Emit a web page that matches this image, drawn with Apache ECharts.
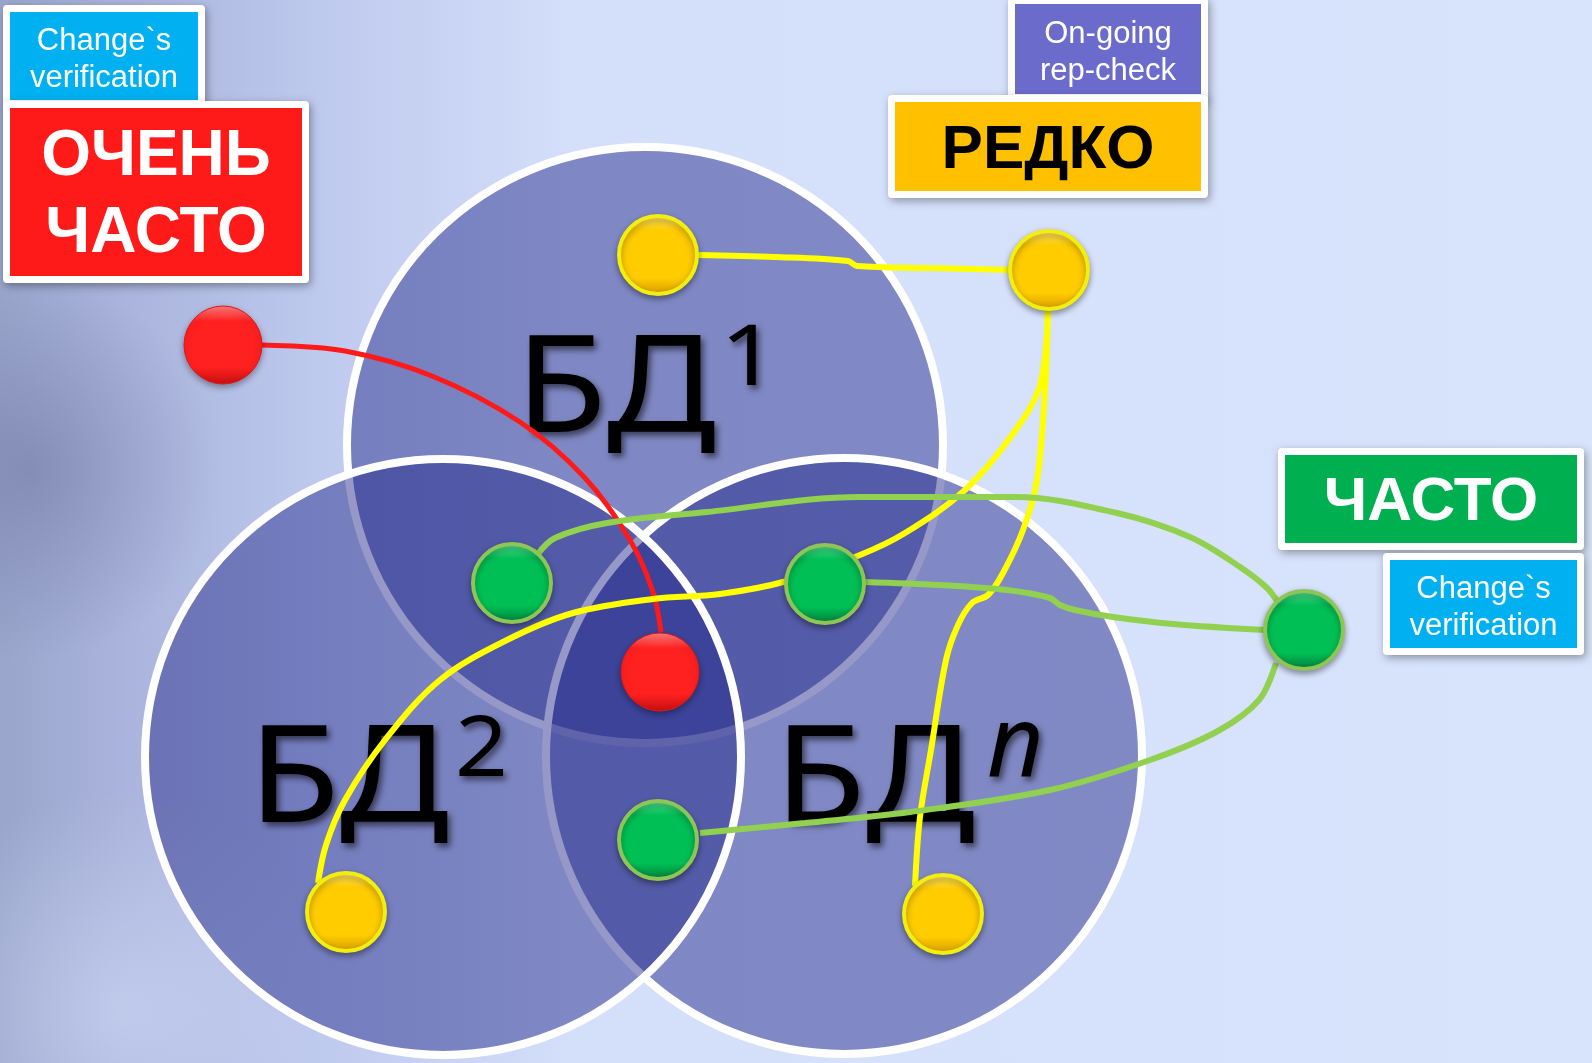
<!DOCTYPE html>
<html>
<head>
<meta charset="utf-8">
<title>БД</title>
<script src="https://cdn.jsdelivr.net/npm/echarts@6/dist/echarts.min.js"></script>
<style>
  html, body { margin: 0; padding: 0; background: #d7e2fc; }
  #chart { width: 1592px; height: 1063px; }
</style>
</head>
<body>
<div id="chart"></div>
<script>
// canvas is mapped 1:1 onto a hidden value grid (x right, y down)
var W = 1592, H = 1063;

// three databases, drawn bottom to top
var dbNames   = ['БД1', 'БДn', 'БД2'];
var dbCenters = [[645, 445], [844, 756], [443, 757]];

// nodes
var redNodes    = [[223, 345], [660, 672]];
var yellowNodes = [[658, 255], [1049, 270], [346, 912], [943, 914]];
var greenNodes  = [[512, 583], [825, 584], [1304, 630], [658, 840]];

// connectors
var redLink = [[262, 345], [345, 351], [432, 376], [520, 422], [585, 478], [630, 540], [653, 592], [661, 632]];
var yellowTop = [[697, 255], [775, 257], [848, 261], [857, 266], [930, 268], [1010, 270]];
var yellowLeft = [[1048, 308], [1040, 385], [1012, 435], [965, 490], [905, 533], [860, 555], [787, 581], [720, 594], [653, 599], [573, 613], [507, 640], [440, 680], [385, 740], [345, 800], [326, 845], [318, 883]];
var yellowDown = [[1048, 308], [1045, 390], [1037, 480], [1023, 530], [1003, 573], [988, 595], [972, 603], [958, 625], [946, 660], [931, 750], [920, 817], [915, 886]];
var greenArc = [[537, 555], [555, 538], [607, 523], [707, 512], [860, 497], [1015, 497], [1117, 513], [1190, 537], [1240, 567], [1267, 588], [1279, 604]];
var greenMid = [[865, 582], [940, 585], [1007, 590], [1050, 598], [1060, 605], [1075, 610], [1113, 617], [1173, 624], [1265, 630]];
var greenLow = [[700, 833], [805, 823], [910, 812], [1050, 790], [1150, 760], [1218, 731], [1259, 700], [1276, 663]];

var chart = echarts.init(document.getElementById('chart'));

function glossy(top, base, bottom) {
    return new echarts.graphic.LinearGradient(0, 0, 0, 1, [
        {offset: 0, color: top},
        {offset: 0.2, color: base},
        {offset: 0.78, color: base},
        {offset: 1, color: bottom}
    ]);
}

function linkSeries(points, color, width) {
    return {
        type: 'line',
        data: points,
        smooth: 0.35,
        showSymbol: false,
        silent: true,
        z: 4,
        lineStyle: {color: color, width: width},
        emphasis: {disabled: true}
    };
}

function nodeSeries(points, fill, border, borderWidth) {
    return {
        type: 'scatter',
        data: points,
        symbol: 'circle',
        symbolSize: 78,
        silent: true,
        z: 6,
        itemStyle: {
            opacity: 1,
            color: fill,
            borderColor: border,
            borderWidth: borderWidth,
            shadowColor: 'rgba(0,0,0,0.35)',
            shadowBlur: 6,
            shadowOffsetY: 3
        },
        emphasis: {disabled: true}
    };
}

// label boxes: white frame + coloured panel + text
function box(x, y, w, h, color, text, font, textColor, lh) {
    return {
        type: 'group',
        z: 10,
        children: [
            {type: 'rect', shape: {x: x - 7, y: y - 7, width: w + 14, height: h + 14, r: 4},
             style: {fill: '#fff', shadowBlur: 8, shadowColor: 'rgba(0,0,0,0.35)', shadowOffsetX: 2, shadowOffsetY: 3}},
            {type: 'rect', shape: {x: x, y: y, width: w, height: h}, style: {fill: color}},
            {type: 'text', x: x + w / 2, y: y + h / 2 + 4,
             style: {text: text, font: font, fill: textColor, align: 'center', verticalAlign: 'middle', lineHeight: lh}}
        ]
    };
}

var dbFont = '136px "Noto Sans", sans-serif';
var supFont = '84px "Noto Sans", sans-serif';
var dbShadow = {textShadowColor: 'rgba(0,0,0,0.55)', textShadowBlur: 6, textShadowOffsetX: 3, textShadowOffsetY: 4};

function dbText(x, y, text, font, sx) {
    return {
        type: 'text', x: x, y: y, z: 3, scaleX: sx,
        style: Object.assign({text: text, font: font, fill: '#000', align: 'left', verticalAlign: 'middle'}, dbShadow)
    };
}

// soft background blob (fades to its own colour, no dark fringe)
function soft(cx, cy, r, rgb, a) {
    return {type: 'rect', z: -9, shape: {x: cx - r, y: cy - r, width: 2 * r, height: 2 * r},
        style: {fill: new echarts.graphic.RadialGradient(0.5, 0.5, 0.5, [
            {offset: 0, color: 'rgba(' + rgb + ',' + a + ')'},
            {offset: 1, color: 'rgba(' + rgb + ',0)'}
        ])}};
}

var option = {
    animation: false,
    grid: {left: 0, right: 0, top: 0, bottom: 0},
    xAxis: {type: 'value', min: 0, max: W, show: false},
    yAxis: {type: 'value', min: 0, max: H, inverse: true, show: false},
    graphic: {
        elements: [
            {type: 'rect', z: -10, shape: {x: 0, y: 0, width: W, height: H},
             style: {fill: new echarts.graphic.LinearGradient(0, 0, 1, 0, [
                 {offset: 0, color: '#9aa5cc'},
                 {offset: 0.08, color: '#aab4dc'},
                 {offset: 0.2, color: '#bec9ee'},
                 {offset: 0.36, color: '#d4dffa'},
                 {offset: 1, color: '#d8e3fc'}
             ])}},
            soft(30, 470, 190, '100,108,150', 0.45),
            soft(120, 1010, 220, '210,220,248', 0.55),

            dbText(515, 393, 'БД', dbFont, 1.1),
            dbText(720, 361, '1', supFont, 1.2),
            dbText(248, 783, 'БД', dbFont, 1.1),
            dbText(455, 752, '2', supFont, 1.1),
            dbText(774, 783, 'БД', dbFont, 1.1),
            dbText(987, 748, 'n', 'italic 98px "Noto Sans", sans-serif', 1),

            box(10, 12, 188, 88, '#00b0f0', 'Change`s\nverification', '31px "Liberation Sans", Arial, sans-serif', '#fff', 37),
            box(10, 108, 292, 168, '#ff1a1a', 'ОЧЕНЬ\nЧАСТО', 'bold 64px "Liberation Sans", Arial, sans-serif', '#fff', 77),
            box(1015, 4, 186, 90, '#6b6bcc', 'On-going\nrep-check', '31px "Liberation Sans", Arial, sans-serif', '#fff', 37),
            box(895, 102, 306, 89, '#ffc000', 'РЕДКО', 'bold 62px "Liberation Sans", Arial, sans-serif', '#000', 70),
            box(1285, 455, 292, 88, '#00b050', 'ЧАСТО', 'bold 62px "Liberation Sans", Arial, sans-serif', '#fff', 70),
            box(1390, 560, 187, 88, '#00b0f0', 'Change`s\nverification', '31px "Liberation Sans", Arial, sans-serif', '#fff', 37)
        ]
    },
    series: [
        {
            type: 'scatter',
            name: 'БД',
            data: dbCenters.map(function (c, i) { return {name: dbNames[i], value: c}; }),
            symbol: 'circle',
            symbolSize: 596,
            silent: true,
            z: 1,
            itemStyle: {opacity: 1, color: 'rgba(36,41,138,0.48)', borderColor: '#fff', borderWidth: 8},
            emphasis: {disabled: true}
        },
        linkSeries(redLink, '#ff1a1a', 5),
        linkSeries(yellowTop, '#ffff00', 6),
        linkSeries(yellowLeft, '#ffff00', 6),
        linkSeries(yellowDown, '#ffff00', 6),
        linkSeries(greenArc, '#92d050', 6),
        linkSeries(greenMid, '#92d050', 6),
        linkSeries(greenLow, '#92d050', 6),
        nodeSeries(redNodes, glossy('#ff8080', '#ff2020', '#c41010'), '#e51515', 1),
        nodeSeries(yellowNodes, glossy('#ffe878', '#ffcc00', '#d49a00'), '#f2ee10', 4),
        nodeSeries(greenNodes, glossy('#5fe79a', '#00bf55', '#00793a'), '#8fc556', 4)
    ]
};

chart.setOption(option);
</script>
</body>
</html>
